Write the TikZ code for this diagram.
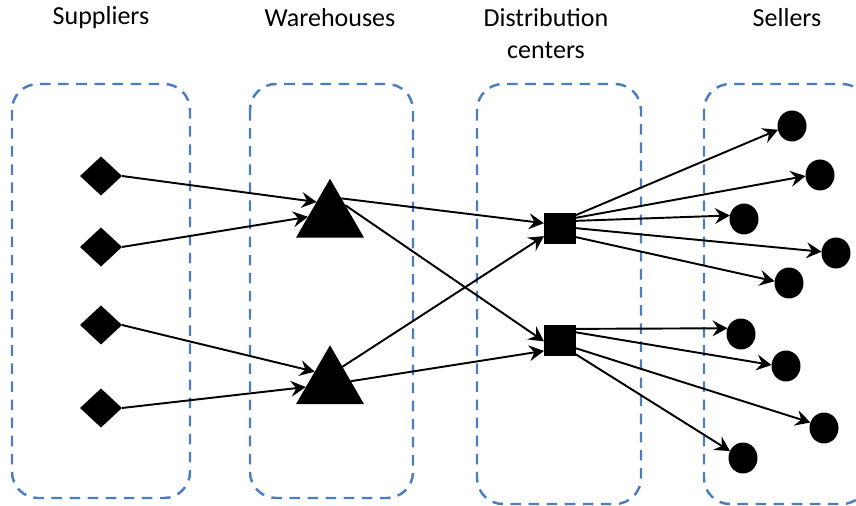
\documentclass[tikz,border=0pt]{standalone}
\usepackage{fontspec}
\setmainfont{Carlito}
\definecolor{groupblue}{RGB}{74, 126, 193}
\usetikzlibrary{shapes.geometric, arrows.meta}

\begin{document}
\begin{tikzpicture}[x=0.02cm, y=-0.02cm,
  group/.style={draw=groupblue, line width=1.4pt, dash pattern=on 6pt off 4.3pt, rounded corners=0.52cm},
  supplier/.style={diamond, fill=black, inner sep=0pt, outer sep=0pt, minimum width=0.84cm, minimum height=0.78cm},
  warehouse/.style={regular polygon, regular polygon sides=3, fill=black, inner sep=0pt, outer sep=0pt, minimum size=1.57cm},
  dcbox/.style={rectangle, fill=black, inner sep=0pt, outer sep=0pt, minimum width=0.64cm, minimum height=0.62cm},
  seller/.style={ellipse, fill=black, inner sep=0pt, outer sep=0pt, minimum width=0.58cm, minimum height=0.62cm},
  flow/.style={line width=1.1pt, -{Stealth[length=8.5pt, width=9pt, inset=3pt]}},
  title/.style={font=\fontsize{14.8}{18.2}\selectfont, align=center}]
  \clip (0, 0) rectangle (856, 506);

  % Column titles
  \node[title] (tsup) at (101, 18) {Suppliers};
  \node[title] (twh) at (330, 18) {Warehouses};
  \node[title] (tdc) at (546, 34) {Distribution\\centers};
  \node[title] (tsel) at (787, 18) {Sellers};

  % Dashed groups
  \draw[group] (12, 84) rectangle (190, 498);
  \draw[group] (250, 84) rectangle (413, 498);
  \draw[group] (477, 84) rectangle (641, 504);
  \draw[group] (704, 84) rectangle (868, 504);

  % Suppliers
  \foreach \n/\y in {1/176, 2/247, 3/325, 4/408} {
    \node[supplier] (sup\n) at (101, \y) {};
  }

  % Warehouses
  \node[warehouse] (wh1) at (330, 218) {};
  \node[warehouse] (wh2) at (330, 384.5) {};

  % Distribution centers
  \node[dcbox] (dc1) at (560, 229) {};
  \node[dcbox] (dc2) at (560, 340.5) {};

  % Sellers
  \foreach \n/\x/\y in {1/792/126, 2/820/175, 3/744/219, 4/836/253, 5/789/283,
                        6/741/334, 7/786/366, 8/824/428, 9/743/458} {
    \node[seller] (sel\n) at (\x, \y) {};
  }

  % Suppliers to warehouses
  \foreach \s/\w/\a in {1/1/130, 2/1/177, 3/2/140, 4/2/186} {
    \draw[flow] (sup\s.east) -- (wh\w.\a);
  }

  % Warehouses to distribution centers
  \draw[flow] (wh1.60) -- (dc1.160);
  \draw[flow] (wh1.40) -- (dc2.183);
  \draw[flow] (wh2.55) -- (dc1.204);
  \draw[flow] (wh2.9) -- (dc2.213);

  % Distribution centers to sellers
  \foreach \d/\a/\s/\b in {1/41/1/195, 1/35/2/184, 1/27/3/166, 1/3/4/175, 1/333/5/173,
                           2/36/6/157, 2/27/7/176, 2/334/8/158, 2/319/9/152} {
    \draw[flow] (dc\d.\a) -- (sel\s.\b);
  }
\end{tikzpicture}
\end{document}
